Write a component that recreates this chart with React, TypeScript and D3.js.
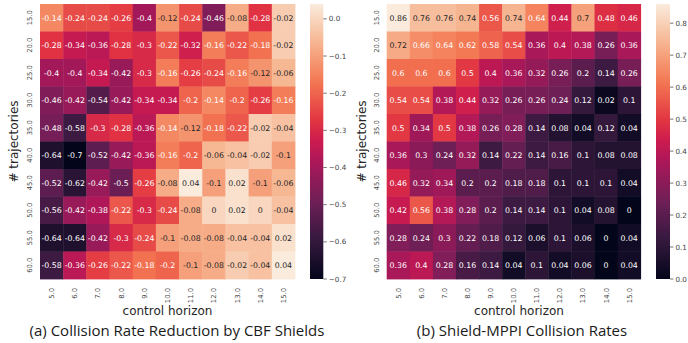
import React from 'react';
import * as d3 from 'd3';

const trajectories = [15, 20, 25, 30, 35, 40, 45, 50, 55, 60];
const horizons = [5, 6, 7, 8, 9, 10, 11, 12, 13, 14, 15];

const reductionRates = [
  [-0.14, -0.24, -0.24, -0.26, -0.4, -0.12, -0.24, -0.46, -0.08, -0.28, -0.02],
  [-0.28, -0.34, -0.36, -0.28, -0.3, -0.22, -0.32, -0.16, -0.22, -0.18, -0.02],
  [-0.4, -0.4, -0.34, -0.42, -0.3, -0.16, -0.26, -0.24, -0.16, -0.12, -0.06],
  [-0.46, -0.42, -0.54, -0.42, -0.34, -0.34, -0.2, -0.14, -0.2, -0.26, -0.16],
  [-0.48, -0.58, -0.3, -0.28, -0.36, -0.14, -0.12, -0.18, -0.22, -0.02, -0.04],
  [-0.64, -0.7, -0.52, -0.42, -0.36, -0.16, -0.2, -0.06, -0.04, -0.02, -0.1],
  [-0.52, -0.62, -0.42, -0.5, -0.26, -0.08, 0.04, -0.1, 0.02, -0.1, -0.06],
  [-0.56, -0.42, -0.38, -0.22, -0.3, -0.24, -0.08, 0, 0.02, 0, -0.04],
  [-0.64, -0.64, -0.42, -0.3, -0.24, -0.1, -0.08, -0.08, -0.04, -0.04, 0.02],
  [-0.58, -0.36, -0.26, -0.22, -0.18, -0.2, -0.1, -0.08, -0.02, -0.04, 0.04],
];

const collisionRates = [
  [0.86, 0.76, 0.76, 0.74, 0.56, 0.74, 0.64, 0.44, 0.7, 0.48, 0.46],
  [0.72, 0.66, 0.64, 0.62, 0.58, 0.54, 0.36, 0.4, 0.38, 0.26, 0.36],
  [0.6, 0.6, 0.6, 0.5, 0.4, 0.36, 0.32, 0.26, 0.2, 0.14, 0.26],
  [0.54, 0.54, 0.38, 0.44, 0.32, 0.26, 0.26, 0.24, 0.12, 0.02, 0.1],
  [0.5, 0.34, 0.5, 0.38, 0.26, 0.28, 0.14, 0.08, 0.04, 0.12, 0.04],
  [0.36, 0.3, 0.24, 0.32, 0.14, 0.22, 0.14, 0.16, 0.1, 0.08, 0.08],
  [0.46, 0.32, 0.34, 0.2, 0.2, 0.18, 0.18, 0.1, 0.1, 0.1, 0.04],
  [0.42, 0.56, 0.38, 0.28, 0.2, 0.14, 0.14, 0.1, 0.04, 0.08, 0],
  [0.28, 0.24, 0.3, 0.22, 0.18, 0.12, 0.06, 0.1, 0.06, 0, 0.04],
  [0.36, 0.4, 0.28, 0.16, 0.14, 0.04, 0.1, 0.04, 0.06, 0, 0.04],
];

const reductionTicks = [0, -0.1, -0.2, -0.3, -0.4, -0.5, -0.6, -0.7];
const collisionTicks = [0, 0.1, 0.2, 0.3, 0.4, 0.5, 0.6, 0.7, 0.8];

const rocketPos = [0, 1 / 7, 2 / 7, 3 / 7, 0.5, 4 / 7, 5 / 7, 6 / 7, 1];
const rocketColors = ['#03051a', '#35193e', '#701f57', '#ad1759', '#cb1b4f', '#e13342', '#f37651', '#f6b48f', '#faebdd'];

const rocket = d3
  .scaleLinear<string>()
  .domain(rocketPos)
  .range(rocketColors)
  .interpolate(d3.interpolateRgb)
  .clamp(true);

function luminance(color: string) {
  const c = d3.rgb(color);
  const f = (v: number) => {
    const s = v / 255;
    return s <= 0.03928 ? s / 12.92 : Math.pow((s + 0.055) / 1.055, 2.4);
  };
  return 0.2126 * f(c.r) + 0.7152 * f(c.g) + 0.0722 * f(c.b);
}

const FONT = 'DejaVu Sans';
const TXT = '#262626';

type PanelProps = {
  id: string;
  data: number[][];
  x0: number;
  x1: number;
  y0: number;
  y1: number;
  vmin: number;
  vmax: number;
  cbX: number;
  cbW: number;
  ticks: number[];
  yTickX: number;
  yTitleX: number;
  xTitleX: number;
  caption: string;
  captionX: number;
};

function Panel(p: PanelProps) {
  const x = d3.scaleBand<number>().domain(horizons).range([p.x0, p.x1]);
  const y = d3.scaleBand<number>().domain(trajectories).range([p.y0, p.y1]);
  const norm = d3.scaleLinear().domain([p.vmin, p.vmax]).range([0, 1]);
  const color = (v: number) => rocket(norm(v));
  const cbY = d3.scaleLinear().domain([p.vmin, p.vmax]).range([p.y1, p.y0]);
  const fmt = d3.format('.1f');
  const stops = d3.range(0, 41).map((i) => i / 40);
  const midY = (p.y0 + p.y1) / 2;
  return (
    <g>
      <defs>
        <linearGradient id={p.id} x1="0" y1="1" x2="0" y2="0">
          {stops.map((s) => (
            <stop key={s} offset={s} stopColor={rocket(s)} />
          ))}
        </linearGradient>
      </defs>
      {p.data.map((row, ri) =>
        row.map((v, ci) => {
          const fill = color(v);
          const xc = x(horizons[ci])! + x.bandwidth() / 2;
          const yc = y(trajectories[ri])! + y.bandwidth() / 2;
          return (
            <g key={`${ri}-${ci}`}>
              <rect
                x={x(horizons[ci])}
                y={y(trajectories[ri])}
                width={x.bandwidth() + 0.4}
                height={y.bandwidth() + 0.4}
                fill={fill}
              />
              <text
                x={xc}
                y={yc}
                dy="0.36em"
                textAnchor="middle"
                fontFamily={FONT}
                fontSize={7.8}
                fill={luminance(fill) > 0.408 ? TXT : '#ffffff'}
              >
                {String(v)}
              </text>
            </g>
          );
        })
      )}
      {trajectories.map((t) => (
        <text
          key={t}
          transform={`translate(${p.yTickX},${y(t)! + y.bandwidth() / 2}) rotate(-90)`}
          textAnchor="middle"
          fontFamily={FONT}
          fontSize={6.8}
          fill="#444"
        >
          {t.toFixed(1)}
        </text>
      ))}
      {horizons.map((h) => (
        <text
          key={h}
          transform={`translate(${x(h)! + x.bandwidth() / 2 + 2.5},${p.y1 + 9}) rotate(-90)`}
          textAnchor="end"
          fontFamily={FONT}
          fontSize={6.8}
          fill="#444"
        >
          {h.toFixed(1)}
        </text>
      ))}
      <text
        transform={`translate(${p.yTitleX},${midY}) rotate(-90)`}
        textAnchor="middle"
        fontFamily={FONT}
        fontSize={12}
        fill={TXT}
      >
        # trajectories
      </text>
      <text x={p.xTitleX} y={315} textAnchor="middle" fontFamily={FONT} fontSize={12} fill={TXT}>
        control horizon
      </text>
      <text x={p.captionX} y={336} textAnchor="middle" fontFamily="Open Sans" fontSize={15} fill="#1a1a1a">
        {p.caption}
      </text>
      <rect x={p.cbX} y={p.y0} width={p.cbW} height={p.y1 - p.y0} fill={`url(#${p.id})`} />
      {p.ticks.map((t) => (
        <g key={t}>
          <line
            x1={p.cbX + p.cbW}
            x2={p.cbX + p.cbW + 3.5}
            y1={cbY(t)}
            y2={cbY(t)}
            stroke="#555"
            strokeWidth={0.8}
          />
          <text
            x={p.cbX + p.cbW + 5.5}
            y={cbY(t)}
            dy="0.35em"
            fontFamily={FONT}
            fontSize={7.2}
            fill="#444"
          >
            {fmt(t)}
          </text>
        </g>
      ))}
    </g>
  );
}

export default function App() {
  return (
    <svg
      width={688}
      height={343}
      style={{ position: 'absolute', left: 0, top: 0, background: '#fff' }}
    >
      <rect width={688} height={343} fill="#fff" />
      <Panel
        id="cbA"
        data={reductionRates}
        x0={40}
        x1={295}
        y0={4}
        y1={279}
        vmin={-0.7}
        vmax={0.04}
        cbX={310}
        cbW={13.3}
        ticks={reductionTicks}
        yTickX={32}
        yTitleX={18}
        xTitleX={167.5}
        caption="(a) Collision Rate Reduction by CBF Shields"
        captionX={177}
      />
      <Panel
        id="cbB"
        data={collisionRates}
        x0={386.7}
        x1={640.7}
        y0={4}
        y1={279}
        vmin={0}
        vmax={0.86}
        cbX={656}
        cbW={14}
        ticks={collisionTicks}
        yTickX={379}
        yTitleX={366}
        xTitleX={519}
        caption="(b) Shield-MPPI Collision Rates"
        captionX={522}
      />
    </svg>
  );
}
